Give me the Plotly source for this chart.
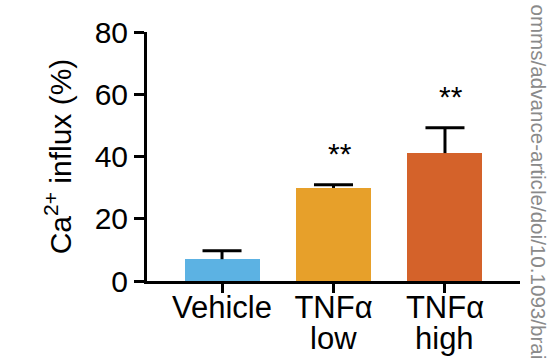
import plotly.graph_objects as go

categories = ["Vehicle", "TNFα low", "TNFα high"]
values = [7.0, 29.9, 41.1]
errors = [2.7, 1.0, 8.1]
colors = ["#5cb2e3", "#e7a02a", "#d4622a"]
stars = ["", "**", "**"]
yticks = [0, 20, 40, 60, 80]

xpos = list(range(len(categories)))
line1 = [c.split(" ", 1)[0] for c in categories]
line2 = [c.split(" ", 1)[1] if " " in c else "" for c in categories]
cap_half = 0.175
FONT = "Liberation Sans, Arial"

fig = go.Figure()
fig.add_trace(go.Bar(
    x=xpos, y=values, width=0.673,
    marker=dict(color=colors, line=dict(width=0)),
    showlegend=False, hoverinfo="skip",
))

# error bars (upper only): stem + cap
ex, ey = [], []
for xi, v, e in zip(xpos, values, errors):
    ex += [xi, xi, None, xi - cap_half, xi + cap_half, None]
    ey += [v, v + e, None, v + e, v + e, None]
fig.add_trace(go.Scatter(x=ex, y=ey, mode="lines", line=dict(color="black", width=3),
                         showlegend=False, hoverinfo="skip", cliponaxis=False))

for xi, v, e, s in zip(xpos, values, errors, stars):
    if s:
        fig.add_annotation(x=xi, y=v + e + 4, text=s, showarrow=False, xshift=6,
                           yanchor="bottom", font=dict(size=30, color="black", family=FONT))

# second line of the category labels
for xi, t in zip(xpos, line2):
    if t:
        fig.add_annotation(x=xi, y=0, yref="paper", text=t, showarrow=False,
                           yanchor="top", yshift=-38,
                           font=dict(size=31, color="black", family=FONT))

fig.add_annotation(xref="paper", yref="paper", x=1.0, y=0.5, xshift=18, yshift=-25,
                   xanchor="center", yanchor="middle",
                   text="omms/advance-article/doi/10.1093/brai", textangle=90,
                   showarrow=False, font=dict(size=20.6, color="#8a8a8a", family=FONT))

fig.update_layout(
    width=548, height=361,
    margin=dict(l=147, r=28, t=32, b=80, autoexpand=False),
    paper_bgcolor="white", plot_bgcolor="white",
    font=dict(family=FONT, size=30, color="black"),
    bargap=0,
)
fig.update_xaxes(
    range=[-0.673, 2.673], tickvals=xpos, ticktext=line1,
    showline=True, linecolor="black", linewidth=3,
    ticks="outside", ticklen=9, tickwidth=3, tickcolor="black",
    showgrid=False, zeroline=False, tickfont=dict(size=31), automargin=False,
    ticklabelstandoff=-12,
)
fig.update_yaxes(
    range=[0, 80], tickvals=yticks,
    showline=True, linecolor="black", linewidth=3,
    ticks="outside", ticklen=10, tickwidth=3, tickcolor="black",
    showgrid=False, zeroline=False, tickfont=dict(size=30), automargin=False,
    title=dict(text="Ca<sup>2+</sup> influx (%)", font=dict(size=30), standoff=15),
)

fig.write_html("out.html", config={"displayModeBar": False},
               post_script="document.body.style.margin='0';")
